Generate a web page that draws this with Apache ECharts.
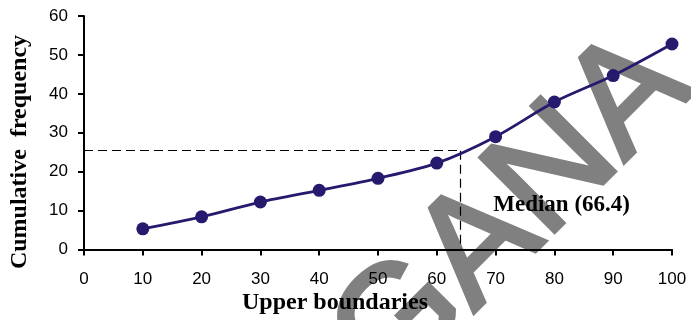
<!DOCTYPE html>
<html>
<head>
<meta charset="utf-8">
<script src="https://cdn.jsdelivr.net/npm/echarts@6/dist/echarts.min.js"></script>
<style>
html,body{margin:0;padding:0;background:#fff;}
#c{width:691px;height:320px;}
</style>
</head>
<body>
<div id="c"></div>
<script>
// Data
var upperBoundaries = [10, 20, 30, 40, 50, 60, 70, 80, 90, 100];
var cumulativeFreq = [5.3, 8.4, 12.2, 15.2, 18.3, 22.2, 29.0, 37.9, 44.7, 52.8];
var xTicks = [0, 10, 20, 30, 40, 50, 60, 70, 80, 90, 100];
var yTicks = [0, 10, 20, 30, 40, 50, 60];
var medianX = 64;
var medianY = 25.4;
var medianLabel = 'Median (66.4)';
var medianLabelPos = [69.6, 11.4];
var xTitle = 'Upper boundaries';
var yTitle = 'Cumulative  frequency';
var watermark = 'GANA';

var chart = echarts.init(document.getElementById('c'), null, {renderer: 'canvas'});
var titleFont = 'bold 24px "Liberation Serif"';
var tickLbl = {fontFamily: 'Liberation Sans', fontSize: 17, color: '#000'};

chart.setOption({
  animation: false,
  backgroundColor: '#fff',
  grid: {left: 84, right: 19, top: 16, bottom: 70.5, containLabel: false},
  graphic: {
    elements: [{
      type: 'text',
      z: -10,
      x: 513, y: 214,
      rotation: 45 * Math.PI / 180,
      style: {
        text: watermark,
        fill: '#808080',
        stroke: '#808080',
        lineWidth: 4,
        font: '153px "Liberation Sans"',
        textAlign: 'center',
        textVerticalAlign: 'middle'
      }
    }, {
      type: 'text',
      x: 335, y: 303,
      style: {
        text: xTitle, fill: '#000', font: titleFont,
        textAlign: 'center', textVerticalAlign: 'middle'
      }
    }, {
      type: 'text',
      x: 20, y: 152,
      rotation: Math.PI / 2,
      style: {
        text: yTitle, fill: '#000', font: titleFont,
        textAlign: 'center', textVerticalAlign: 'middle'
      }
    }]
  },
  xAxis: {
    type: 'value', min: xTicks[0], max: xTicks[xTicks.length - 1], interval: xTicks[1] - xTicks[0],
    axisLine: {show: true, lineStyle: {color: '#000', width: 2}},
    axisTick: {show: true, length: 6, lineStyle: {color: '#000', width: 2}},
    axisLabel: Object.assign({margin: 21}, tickLbl),
    splitLine: {show: false}
  },
  yAxis: {
    type: 'value', min: yTicks[0], max: yTicks[yTicks.length - 1], interval: yTicks[1] - yTicks[0],
    axisLine: {show: true, lineStyle: {color: '#000', width: 2}},
    axisTick: {show: true, length: 6, lineStyle: {color: '#000', width: 2}},
    axisLabel: Object.assign({margin: 16}, tickLbl),
    splitLine: {show: false}
  },
  series: [{
    type: 'line',
    z: 5,
    data: upperBoundaries.map(function (x, i) { return [x, cumulativeFreq[i]]; }),
    smooth: 0.3,
    symbol: 'circle',
    symbolSize: 13,
    lineStyle: {color: '#261a6e', width: 2.8},
    itemStyle: {color: '#261a6e'},
    markLine: {
      silent: true,
      symbol: 'none',
      label: {show: false},
      lineStyle: {color: '#000', type: [9, 5], width: 1.2},
      data: [
        [{coord: [0, medianY]}, {coord: [medianX, medianY]}],
        [{coord: [medianX, medianY]}, {coord: [medianX, 0]}]
      ]
    },
    markPoint: {
      silent: true,
      symbol: 'circle',
      symbolSize: 0,
      data: [{coord: medianLabelPos}],
      label: {
        show: true, position: 'right', distance: 0,
        formatter: medianLabel,
        fontFamily: 'Liberation Serif', fontWeight: 'bold', fontSize: 23, color: '#000'
      }
    }
  }]
});
</script>
</body>
</html>
